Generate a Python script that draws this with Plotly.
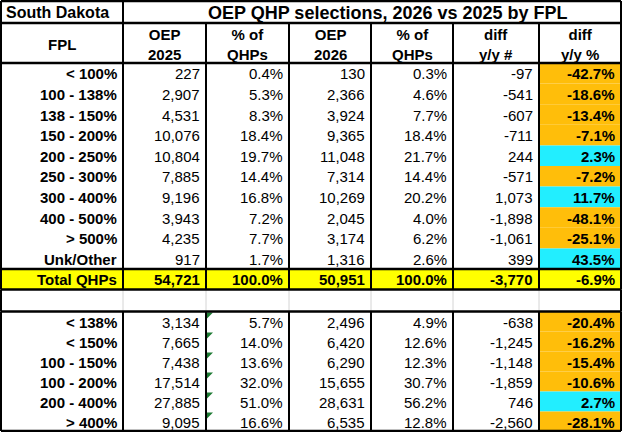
import plotly.graph_objects as go

###############################################################################
# Table values (South Dakota OEP QHP selections by FPL)
###############################################################################
fplLabels = ["< 100%", "100 - 138%", "138 - 150%", "150 - 200%", "200 - 250%",
             "250 - 300%", "300 - 400%", "400 - 500%", "> 500%", "Unk/Other",
             "Total QHPs"]
oep2025 = [227, 2907, 4531, 10076, 10804, 7885, 9196, 3943, 4235, 917, 54721]
pct2025 = [0.4, 5.3, 8.3, 18.4, 19.7, 14.4, 16.8, 7.2, 7.7, 1.7, 100.0]
oep2026 = [130, 2366, 3924, 9365, 11048, 7314, 10269, 2045, 3174, 1316, 50951]
pct2026 = [0.3, 4.6, 7.7, 18.4, 21.7, 14.4, 20.2, 4.0, 6.2, 2.6, 100.0]
diffNum = [-97, -541, -607, -711, 244, -571, 1073, -1898, -1061, 399, -3770]
diffPct = [-42.7, -18.6, -13.4, -7.1, 2.3, -7.2, 11.7, -48.1, -25.1, 43.5, -6.9]

subLabels = ["< 138%", "< 150%", "100 - 150%", "100 - 200%", "200 - 400%",
             "> 400%"]
sub2025 = [3134, 7665, 7438, 17514, 27885, 9095]
subPct2025 = [5.7, 14.0, 13.6, 32.0, 51.0, 16.6]
sub2026 = [2496, 6420, 6290, 15655, 28631, 6535]
subPct2026 = [4.9, 12.6, 12.3, 30.7, 56.2, 12.8]
subDiff = [-638, -1245, -1148, -1859, 746, -2560]
subDiffPct = [-20.4, -16.2, -15.4, -10.6, 2.7, -28.1]

headers = ["FPL", "OEP<br>2025", "% of<br>QHPs", "OEP<br>2026", "% of<br>QHPs",
           "diff<br>y/y #", "diff<br>y/y %"]
state = "South Dakota"
title = "OEP QHP selections, 2026 vs 2025 by FPL"

###############################################################################
# Layout geometry (pixels)
###############################################################################
W, H = 622, 432
colEdges = [1, 123, 206, 289, 371, 453, 539, 621]
titleBottom = 23
headBottom = 63
topRowH = 20.6
blankH = 22
lowRowH = 20.0
FONT = "Liberation Sans, Arial, sans-serif"
ORANGE = "#FFBE0A"
CYAN = "#22EEFF"
YELLOW = "#FFFF00"

rowTops = [headBottom + i * topRowH for i in range(len(fplLabels))]
upperBottom = headBottom + len(fplLabels) * topRowH
lowerTop = upperBottom + blankH
subTops = [lowerTop + i * lowRowH for i in range(len(subLabels))]
lowerBottom = H - 1

shapes = []
annotations = []


def addText(text, xRight, yCenter, bold=False, size=15, anchor="right"):
    if bold:
        text = "<b>" + text + "</b>"
    annotations.append(dict(
        x=xRight, y=yCenter, xref="x", yref="y", text=text, showarrow=False,
        xanchor=anchor, yanchor="middle",
        font=dict(family=FONT, size=size, color="black")
    ))


def addRow(top, h, values, boldAll=False, fill=None, lastFill=None):
    yc = top + h / 2 + 0.5
    if fill:
        shapes.append(dict(type="rect", x0=colEdges[0], x1=colEdges[-1],
                           y0=top, y1=top + h, fillcolor=fill,
                           line=dict(width=0), layer="below"))
    if lastFill:
        shapes.append(dict(type="rect", x0=colEdges[-2], x1=colEdges[-1],
                           y0=top, y1=top + h, fillcolor=lastFill,
                           line=dict(width=0), layer="below"))
    for c, v in enumerate(values):
        bold = boldAll or c == 0 or c == len(values) - 1
        addText(v, colEdges[c + 1] - 4, yc, bold=bold)


def fmtRow(label, a, pa, b, pb, d, dp):
    return [label, f"{a:,}", f"{pa:.1f}%", f"{b:,}", f"{pb:.1f}%",
            f"{d:,}", f"{dp:.1f}%"]


# upper section
for i, lab in enumerate(fplLabels):
    vals = fmtRow(lab, oep2025[i], pct2025[i], oep2026[i], pct2026[i],
                  diffNum[i], diffPct[i])
    isTotal = lab.startswith("Total")
    if isTotal:
        addRow(rowTops[i], topRowH, vals, boldAll=True, fill=YELLOW)
    else:
        addRow(rowTops[i], topRowH, vals,
               lastFill=ORANGE if diffPct[i] < 0 else CYAN)

# lower section
for i, lab in enumerate(subLabels):
    vals = fmtRow(lab, sub2025[i], subPct2025[i], sub2026[i], subPct2026[i],
                  subDiff[i], subDiffPct[i])
    addRow(subTops[i], lowRowH, vals,
           lastFill=ORANGE if subDiffPct[i] < 0 else CYAN)
    # excel "number stored as text" markers
    x0, y0 = colEdges[2] + 1, subTops[i] + 1
    shapes.append(dict(type="path",
                       path=f"M {x0},{y0} L {x0 + 6},{y0} L {x0},{y0 + 6} Z",
                       fillcolor="#1E7B34", line=dict(width=0)))

# header texts
addText(state, colEdges[0] + 3, titleBottom / 2 + 1, bold=True, size=16,
        anchor="left")
addText(title, 388, titleBottom / 2 + 1, bold=True, size=18, anchor="center")
for c, htxt in enumerate(headers):
    xc = (colEdges[c] + colEdges[c + 1]) / 2
    annotations.append(dict(
        x=xc, y=(titleBottom + headBottom) / 2 + 1, xref="x", yref="y",
        text="<b>" + htxt + "</b>", showarrow=False, xanchor="center",
        yanchor="middle", align="center",
        font=dict(family=FONT, size=15, color="black")
    ))

# grid lines
black = dict(color="black", width=2)
thick = dict(color="black", width=2.5)
for c, x in enumerate(colEdges):
    yStart = 1 if c in (0, 1, len(colEdges) - 1) else titleBottom
    shapes.append(dict(type="line", x0=x, x1=x, y0=yStart, y1=upperBottom,
                       line=black))
    shapes.append(dict(type="line", x0=x, x1=x, y0=lowerTop, y1=lowerBottom,
                       line=black))
    if c in (0, len(colEdges) - 1):
        shapes.append(dict(type="line", x0=x, x1=x, y0=upperBottom,
                           y1=lowerTop, line=black))
    else:
        shapes.append(dict(type="line", x0=x, x1=x, y0=upperBottom,
                           y1=lowerTop, line=dict(color="#D4D4D4", width=1)))
for y in [1, titleBottom, headBottom, rowTops[-1], upperBottom, lowerTop,
          lowerBottom]:
    shapes.append(dict(type="line", x0=colEdges[0], x1=colEdges[-1], y0=y,
                       y1=y, line=thick))

fig = go.Figure()
fig.update_layout(
    width=W, height=H,
    margin=dict(l=0, r=0, t=0, b=0),
    paper_bgcolor="white", plot_bgcolor="white",
    xaxis=dict(range=[0, W], visible=False, fixedrange=True),
    yaxis=dict(range=[H, 0], visible=False, fixedrange=True),
    shapes=shapes, annotations=annotations, showlegend=False
)
fig.write_html("out.html", config=dict(displayModeBar=False),
               post_script="document.body.style.margin='0';"
                           "document.body.style.overflow='hidden';")
